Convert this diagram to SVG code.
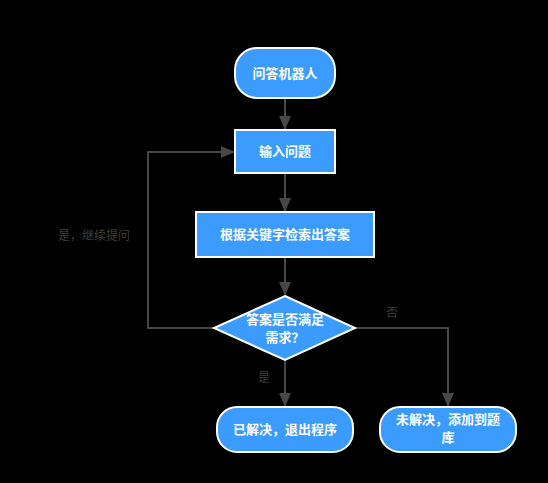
<svg xmlns="http://www.w3.org/2000/svg" width="548" height="483" viewBox="0 0 548 483">
<defs>
<marker id="arr" viewBox="0 0 14 12" refX="13" refY="6" markerWidth="7" markerHeight="6" orient="auto" markerUnits="strokeWidth">
<path d="M0,0 L14,6 L0,12 Z" fill="#474747"/>
</marker>
<style>
.n{fill:#3b9bff;stroke:#ffffff;stroke-width:2}
.t{font-family:"Noto Sans CJK SC","Noto Sans",sans-serif;font-size:13px;font-weight:bold;fill:#ffffff;text-anchor:middle}
.c{fill:none;stroke:#474747;stroke-width:2}
.l{font-family:"Noto Sans CJK SC","Noto Sans",sans-serif;font-size:12px;fill:#3d3d3d;text-anchor:middle}
</style>
</defs>
<rect width="548" height="483" fill="#000000"/>
<g id="connectors">
<path class="c" d="M285,98 V129" marker-end="url(#arr)"/>
<path class="c" d="M285,173 V211" marker-end="url(#arr)"/>
<path class="c" d="M285,257 V295" marker-end="url(#arr)"/>
<path class="c" d="M285,360 V406" marker-end="url(#arr)"/>
<path class="c" d="M355,328 H448 V406" marker-end="url(#arr)"/>
<path class="c" d="M214,328 H148 V152 H234" marker-end="url(#arr)"/>
<text class="l" x="264" y="382">是</text>
<text class="l" x="392" y="317">否</text>
<text class="l" x="94" y="240">是，继续提问</text>
</g>
<g id="start">
<rect class="n" x="235" y="48" width="100" height="50" rx="22"/>
<text class="t" x="285" y="78">问答机器人</text>
</g>
<g id="input">
<rect class="n" x="235" y="130" width="100" height="43"/>
<text class="t" x="285" y="156">输入问题</text>
</g>
<g id="search">
<rect class="n" x="196" y="212" width="178" height="45"/>
<text class="t" x="285" y="239">根据关键字检索出答案</text>
</g>
<g id="decision">
<polygon class="n" points="285,296 355,328 285,360 214,328"/>
<text class="t" x="285" y="324">答案是否满足</text>
<text class="t" x="285" y="342">需求？</text>
</g>
<g id="solved">
<rect class="n" x="217" y="407" width="136" height="45" rx="20"/>
<text class="t" x="285" y="434">已解决，退出程序</text>
</g>
<g id="unsolved">
<rect class="n" x="380" y="407" width="136" height="45" rx="20"/>
<text class="t" x="448" y="424">未解决，添加到题</text>
<text class="t" x="448" y="442">库</text>
</g>
</svg>
